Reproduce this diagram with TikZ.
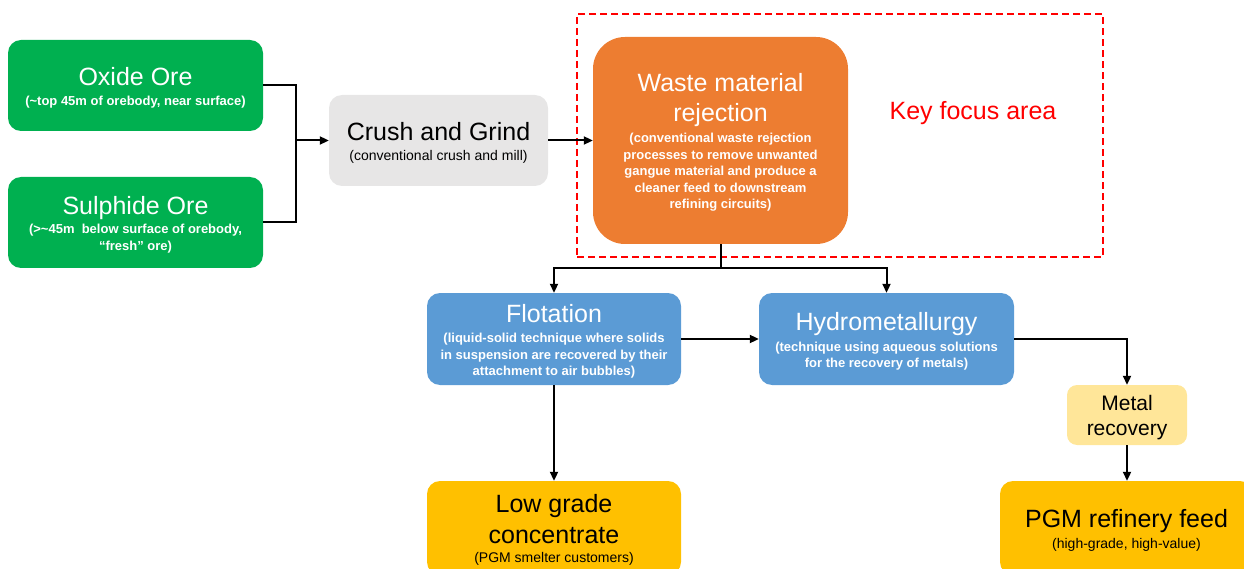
\documentclass[tikz,border=0pt]{standalone}
\usepackage{fontspec}
\setmainfont{Liberation Sans}
\usetikzlibrary{arrows.meta}
\definecolor{oregreen}{HTML}{00B050}
\definecolor{millgray}{HTML}{E7E6E6}
\definecolor{wasteorange}{HTML}{ED7D31}
\definecolor{procblue}{HTML}{5B9BD5}
\definecolor{metalyellow}{HTML}{FFE699}
\definecolor{productgold}{HTML}{FFC000}
\definecolor{keyred}{HTML}{FF0000}
\newcommand{\notefont}{\fontsize{13}{16.5}\selectfont\bfseries\lineskiplimit=-100pt}
\newcommand{\ttl}[1]{{\fontsize{25}{30}\selectfont\mdseries\vrule height .9em depth .21em width 0pt #1}}
\newcommand{\plainnote}[1]{{\fontsize{14}{17}\selectfont\mdseries #1}}
\tikzset{
    stage/.style={
        rectangle,
        rounded corners=13pt,
        minimum width=255pt,
        minimum height=91pt,
        inner sep=0pt,
        align=center,
        text=white,
        font=\notefont,
        fill=#1
    },
    arrow/.style={
        -{Triangle[length=9pt,width=8pt]},
        line width=2pt
    },
    link/.style={line width=2pt},
    focus/.style={
        draw=keyred,
        line width=1.8pt,
        dash pattern=on 7pt off 4pt
    }
}
\begin{document}
\begin{tikzpicture}[x=1pt,y=-1pt]
    \path[use as bounding box, clip] (0,0) rectangle (1244,569);

    \node[focus, minimum width=526pt, minimum height=243pt] (keyarea) at (840,135.5) {};
    \node[text=keyred, font=\fontsize{25}{30}\selectfont] (keytext) at (973,113) {Key focus area};

    \node[stage=oregreen] (oxide) at (135.5,85.5)
        {\ttl{Oxide Ore}\\[4pt] (\textasciitilde top 45m of orebody, near surface)};
    \node[stage=oregreen] (sulphide) at (135.5,222.5)
        {\ttl{Sulphide Ore}\\[3pt] (>\textasciitilde 45m\ \ below surface of orebody,\\ “fresh” ore)};
    \node[stage=millgray, minimum width=219pt, text=black] (crush) at (438.5,140.5)
        {\ttl{Crush and Grind}\\[4pt] \plainnote{(conventional crush and mill)}};
    \node[stage=wasteorange, minimum height=207pt, rounded corners=32pt] (waste) at (720.5,140.5)
        {\ttl{Waste material}\\[13.5pt] \ttl{rejection}\\[4.5pt]
         (conventional waste rejection\\ processes to remove unwanted\\
         gangue material and produce a\\ cleaner feed to downstream\\ refining circuits)};
    \node[stage=procblue, minimum width=254pt, minimum height=92pt] (flotation) at (554,339)
        {\ttl{Flotation}\\[4pt] (liquid-solid technique where solids\\
         in suspension are recovered by their\\ attachment to air bubbles)};
    \node[stage=procblue, minimum height=92pt] (hydro) at (886.5,339)
        {\ttl{Hydrometallurgy}\\[4.5pt] (technique using aqueous solutions\\ for the recovery of metals)};
    \node[stage=metalyellow, minimum width=120pt, minimum height=60pt, rounded corners=10pt,
          text=black, font=\fontsize{21}{25}\selectfont] (metal) at (1127,415)
        {\vrule height .95em width 0pt Metal\\ recovery};
    \node[stage=productgold, minimum width=254pt, minimum height=94pt, text=black] (lowgrade) at (554,528)
        {\ttl{Low grade}\\[14pt] \ttl{concentrate}\\[3pt] \plainnote{(PGM smelter customers)}};
    \node[stage=productgold, minimum width=253pt, minimum height=94pt, text=black] (pgm) at (1126.5,528)
        {\ttl{PGM refinery feed}\\[4pt] \plainnote{(high-grade, high-value)}};

    \coordinate (join) at (296,140.5);
    \coordinate (split) at (720.5,268);

    \draw[link] (oxide.east) -| (join);
    \draw[link] (sulphide.east) -| (join);
    \draw[arrow] (join) -- (crush.west);
    \draw[arrow] (crush) -- (waste);
    \draw[link] (waste.south) -- (split);
    \draw[arrow] (split) -| (flotation.north);
    \draw[arrow] (split) -| (hydro.north);
    \draw[arrow] (flotation) -- (hydro);
    \draw[arrow] (flotation) -- (lowgrade);
    \draw[arrow] (hydro.east) -| (metal.north);
    \draw[arrow] (metal.south) -- (metal.south |- pgm.north);
\end{tikzpicture}
\end{document}
